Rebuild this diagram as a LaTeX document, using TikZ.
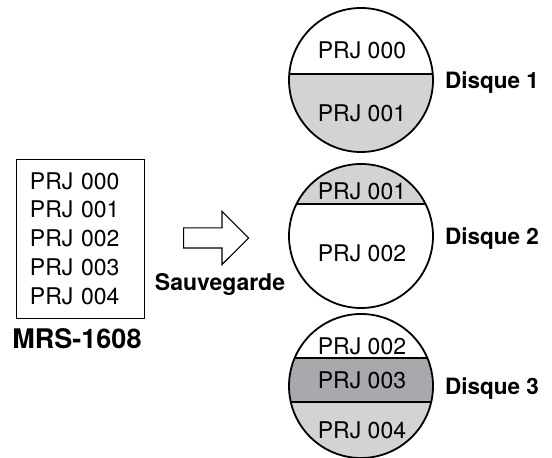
\documentclass[tikz,border=0pt]{standalone}
\usepackage{fontspec}
\setmainfont{TeX Gyre Heros}
\usetikzlibrary{positioning,shapes.arrows,calc}
\definecolor{lightgrey}{HTML}{D1D3D4}
\definecolor{midgrey}{HTML}{A7A9AC}

\begin{document}
\begin{tikzpicture}[
  x=1pt, y=1pt,
  disk/.style={circle, draw, line width=1.8pt, minimum size=144pt, inner sep=0pt},
  prj/.style={font=\fontsize{23}{28.75}\selectfont, inner sep=0pt, text depth=0pt},
  disklabel/.style={font=\fontsize{22.5}{27}\selectfont\bfseries, inner sep=0pt, text depth=0pt},
  divider/.style={line width=1.8pt},
  bigarrow/.style={single arrow, draw, line width=1.2pt, minimum height=65pt,
                   inner xsep=0pt, inner ysep=9.5pt, single arrow head extend=16.5pt,
                   single arrow head indent=0pt}
]
  \useasboundingbox (0,0) rectangle (552,458);

  % Left: project list
  \node[draw, line width=0.9pt, font=\fontsize{23}{28.75}\selectfont,
        text width=100pt, inner xsep=14pt, inner ysep=0pt,
        minimum height=159pt, align=left] (list) at (80,219.5)
        {PRJ 000\\PRJ 001\\PRJ 002\\PRJ 003\\PRJ 004};
  \node[font=\fontsize{27}{32}\selectfont\bfseries, inner sep=0pt, text depth=0pt,
        below=10pt of list, xshift=-3pt] (mrs) {MRS-1608};

  % Arrow
  \node[bigarrow, anchor=tail] (arrow) at (183,220) {};
  \node[disklabel, font=\fontsize{23}{27}\selectfont\bfseries] (save) at (220,176) {Sauvegarde};

  % Disk centres
  \coordinate (c1) at (361,378);
  \coordinate (c2) at (361,222);
  \coordinate (c3) at (361,72);

  % Disk fills and dividers
  \begin{scope}
    \clip (c1) circle (72);
    \fill[lightgrey] ($(c1)+(-80,6)$) rectangle ($(c1)+(80,-80)$);
    \draw[divider] ($(c1)+(-80,6)$) -- ($(c1)+(80,6)$);
  \end{scope}
  \begin{scope}
    \clip (c2) circle (72);
    \fill[lightgrey] ($(c2)+(-80,32)$) rectangle ($(c2)+(80,80)$);
    \draw[divider] ($(c2)+(-80,32)$) -- ($(c2)+(80,32)$);
  \end{scope}
  \begin{scope}
    \clip (c3) circle (72);
    \fill[midgrey] ($(c3)+(-80,28)$) rectangle ($(c3)+(80,-16)$);
    \fill[lightgrey] ($(c3)+(-80,-16)$) rectangle ($(c3)+(80,-80)$);
    \draw[divider] ($(c3)+(-80,28)$) -- ($(c3)+(80,28)$);
    \draw[divider] ($(c3)+(-80,-16)$) -- ($(c3)+(80,-16)$);
  \end{scope}

  % Disks
  \node[disk] (disk1) at (c1) {};
  \node[disk] (disk2) at (c2) {};
  \node[disk] (disk3) at (c3) {};

  % Disk contents
  \node[prj] (d1a) at (362,408) {PRJ 000};
  \node[prj] (d1b) at (362,345) {PRJ 001};
  \node[prj] (d2a) at (362,267) {PRJ 001};
  \node[prj] (d2b) at (362,205) {PRJ 002};
  \node[prj] (d3a) at (362,112) {PRJ 002};
  \node[prj] (d3b) at (362,78)  {PRJ 003};
  \node[prj] (d3c) at (362,28)  {PRJ 004};

  % Disk labels
  \node[disklabel, right=11pt of disk1] (lab1) {Disque 1};
  \node[disklabel, right=11pt of disk2] (lab2) {Disque 2};
  \node[disklabel, right=11pt of disk3] (lab3) {Disque 3};
\end{tikzpicture}
\end{document}
